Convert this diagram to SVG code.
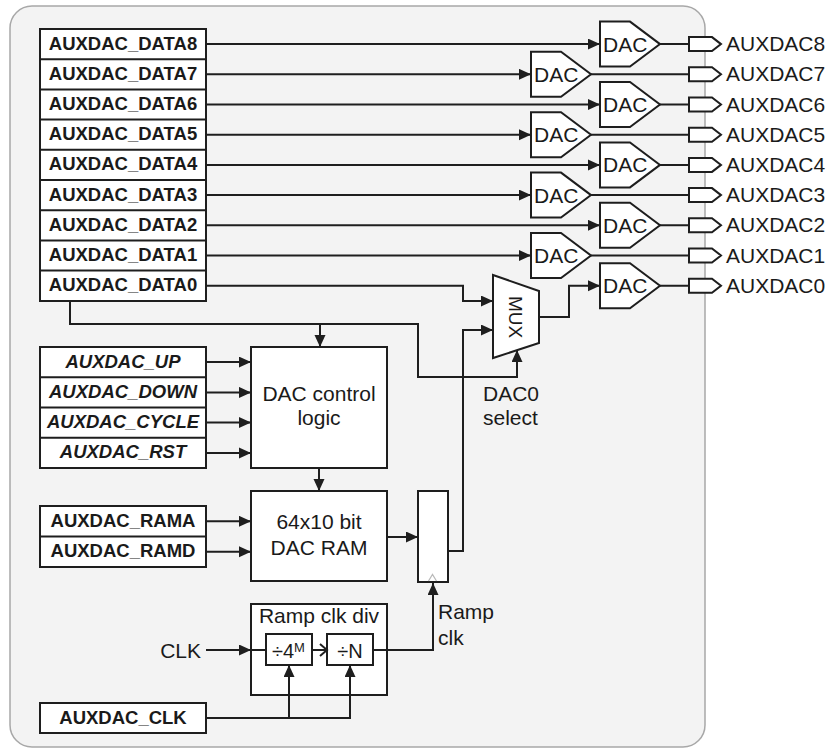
<svg xmlns="http://www.w3.org/2000/svg" width="830" height="753" viewBox="0 0 830 753">
<defs>
<style>
.ln{fill:none;stroke:#1e1e1e;stroke-width:2}
.bx{fill:#fff;stroke:#1e1e1e;stroke-width:2}
.rl{font-family:"Liberation Sans",Arial,sans-serif;font-weight:bold;font-size:18.5px;fill:#1a1a1a;text-anchor:middle}
.ri{font-family:"Liberation Sans",Arial,sans-serif;font-weight:bold;font-style:italic;font-size:18.5px;fill:#1a1a1a;text-anchor:middle}
.t{font-family:"Liberation Sans",Arial,sans-serif;font-size:21px;fill:#1a1a1a}
.m{text-anchor:middle}
</style>
<marker id="ah" markerUnits="userSpaceOnUse" markerWidth="13" markerHeight="12" refX="12" refY="5.5" orient="auto">
<path d="M0,0 L12,5.5 L0,11 z" fill="#1e1e1e"/>
</marker>
<polygon id="dac" points="0,-22.5 30,-22.5 60,0 30,22.5 0,22.5" class="bx"/>
<polygon id="port" points="0,-7 23,-7 32,0 23,7 0,7" class="bx"/>
</defs>
<rect x="10" y="6" width="695" height="741" rx="22" fill="#f3f3f3" stroke="#a8a8a8" stroke-width="1.5"/>

<g id="reg_data">
<rect class="bx" x="40" y="29" width="166" height="272"/>
<path class="ln" d="M40,59.2H206 M40,89.4H206 M40,119.6H206 M40,149.8H206 M40,180H206 M40,210.2H206 M40,240.4H206 M40,270.6H206"/>
<text class="rl" x="123" y="49.6">AUXDAC_DATA8</text>
<text class="rl" x="123" y="79.8">AUXDAC_DATA7</text>
<text class="rl" x="123" y="110">AUXDAC_DATA6</text>
<text class="rl" x="123" y="140.2">AUXDAC_DATA5</text>
<text class="rl" x="123" y="170.4">AUXDAC_DATA4</text>
<text class="rl" x="123" y="200.6">AUXDAC_DATA3</text>
<text class="rl" x="123" y="230.8">AUXDAC_DATA2</text>
<text class="rl" x="123" y="261">AUXDAC_DATA1</text>
<text class="rl" x="123" y="291.2">AUXDAC_DATA0</text>
</g>

<g id="dacs">
<g id="dac8" transform="translate(600,44.1)"><use href="#dac"/><text class="t" x="3" y="7.5">DAC</text></g>
<g id="dac7" transform="translate(531,74.3)"><use href="#dac"/><text class="t" x="3" y="7.5">DAC</text></g>
<g id="dac6" transform="translate(600,104.5)"><use href="#dac"/><text class="t" x="3" y="7.5">DAC</text></g>
<g id="dac5" transform="translate(531,134.7)"><use href="#dac"/><text class="t" x="3" y="7.5">DAC</text></g>
<g id="dac4" transform="translate(600,164.9)"><use href="#dac"/><text class="t" x="3" y="7.5">DAC</text></g>
<g id="dac3" transform="translate(531,195.1)"><use href="#dac"/><text class="t" x="3" y="7.5">DAC</text></g>
<g id="dac2" transform="translate(600,225.3)"><use href="#dac"/><text class="t" x="3" y="7.5">DAC</text></g>
<g id="dac1" transform="translate(531,255.5)"><use href="#dac"/><text class="t" x="3" y="7.5">DAC</text></g>
<g id="dac0" transform="translate(600,285.7)"><use href="#dac"/><text class="t" x="3" y="7.5">DAC</text></g>
</g>

<g id="ports">
<g transform="translate(689,44.1)"><use href="#port"/><text class="t" x="37" y="7">AUXDAC8</text></g>
<g transform="translate(689,74.3)"><use href="#port"/><text class="t" x="37" y="7">AUXDAC7</text></g>
<g transform="translate(689,104.5)"><use href="#port"/><text class="t" x="37" y="7">AUXDAC6</text></g>
<g transform="translate(689,134.7)"><use href="#port"/><text class="t" x="37" y="7">AUXDAC5</text></g>
<g transform="translate(689,164.9)"><use href="#port"/><text class="t" x="37" y="7">AUXDAC4</text></g>
<g transform="translate(689,195.1)"><use href="#port"/><text class="t" x="37" y="7">AUXDAC3</text></g>
<g transform="translate(689,225.3)"><use href="#port"/><text class="t" x="37" y="7">AUXDAC2</text></g>
<g transform="translate(689,255.5)"><use href="#port"/><text class="t" x="37" y="7">AUXDAC1</text></g>
<g transform="translate(689,285.7)"><use href="#port"/><text class="t" x="37" y="7">AUXDAC0</text></g>
</g>

<g id="mux">
<polygon class="bx" points="493,275 539,291 539,343 493,358"/>
<text class="t m" transform="translate(516,317) rotate(90)" x="0" y="7" style="font-size:19px">MUX</text>
</g>
<g id="dac0_select_label">
<text class="t" x="483" y="401">DAC0</text>
<text class="t" x="483" y="425">select</text>
</g>

<g id="reg_ctrl">
<rect class="bx" x="40" y="347" width="166" height="121"/>
<path class="ln" d="M40,377.25H206 M40,407.5H206 M40,437.75H206"/>
<text class="ri" x="123" y="367.6">AUXDAC_UP</text>
<text class="ri" x="123" y="397.9">AUXDAC_DOWN</text>
<text class="ri" x="123" y="428.1">AUXDAC_CYCLE</text>
<text class="ri" x="123" y="458.4">AUXDAC_RST</text>
</g>

<g id="dac_control_logic">
<rect class="bx" x="251" y="347" width="136" height="121"/>
<text class="t m" x="319" y="401">DAC control</text>
<text class="t m" x="319" y="425">logic</text>
</g>

<g id="reg_ram">
<rect class="bx" x="40" y="506" width="166" height="61"/>
<path class="ln" d="M40,536.5H206"/>
<text class="rl" x="123" y="526.8">AUXDAC_RAMA</text>
<text class="rl" x="123" y="557.3">AUXDAC_RAMD</text>
</g>

<g id="dac_ram">
<rect class="bx" x="251" y="491" width="136" height="90"/>
<text class="t m" x="319" y="529">64x10 bit</text>
<text class="t m" x="319" y="555">DAC RAM</text>
</g>

<g id="shift_reg">
<rect class="bx" x="418" y="491" width="30" height="91"/>
<path d="M428.5,581 L432.5,574.5 L436.5,581" fill="none" stroke="#b8b8b8" stroke-width="1.2"/>
</g>
<g id="ramp_clk_label">
<text class="t" x="438" y="619">Ramp</text>
<text class="t" x="438" y="645">clk</text>
</g>

<g id="ramp_clk_div">
<rect class="bx" x="251" y="604" width="136" height="91"/>
<text class="t m" x="319" y="623">Ramp clk div</text>
</g>
<g id="div4m">
<rect class="bx" x="266" y="634" width="46" height="31"/>
<text class="t" x="272" y="658" style="font-size:20px">÷4<tspan dy="-6" style="font-size:13px">M</tspan></text>
</g>
<g id="divn">
<rect class="bx" x="327" y="634" width="46" height="31"/>
<text class="t m" x="350" y="658" style="font-size:20px">÷N</text>
</g>

<g id="clk_label">
<text class="t" x="201" y="658" style="text-anchor:end">CLK</text>
</g>

<g id="reg_clk">
<rect class="bx" x="40" y="703" width="166" height="30"/>
<text class="rl" x="123" y="724">AUXDAC_CLK</text>
</g>

<g id="connectors">
<path class="ln" d="M206,44.1H600" marker-end="url(#ah)"/>
<path class="ln" d="M206,74.3H531" marker-end="url(#ah)"/>
<path class="ln" d="M206,104.5H600" marker-end="url(#ah)"/>
<path class="ln" d="M206,134.7H531" marker-end="url(#ah)"/>
<path class="ln" d="M206,164.9H600" marker-end="url(#ah)"/>
<path class="ln" d="M206,195.1H531" marker-end="url(#ah)"/>
<path class="ln" d="M206,225.3H600" marker-end="url(#ah)"/>
<path class="ln" d="M206,255.5H531" marker-end="url(#ah)"/>
<path class="ln" d="M660,44.1H689 M591,74.3H689 M660,104.5H689 M591,134.7H689 M660,164.9H689 M591,195.1H689 M660,225.3H689 M591,255.5H689 M660,285.7H689"/>
<path class="ln" d="M206,285.7H463V301H493" marker-end="url(#ah)"/>
<path class="ln" d="M448,551H463V330H493" marker-end="url(#ah)"/>
<path class="ln" d="M539,317H569V285.7H600" marker-end="url(#ah)"/>
<path class="ln" d="M70,302V324H418V377H517V350" marker-end="url(#ah)"/>
<path class="ln" d="M320,324V347" marker-end="url(#ah)"/>
<path class="ln" d="M206,362.1H251" marker-end="url(#ah)"/>
<path class="ln" d="M206,392.4H251" marker-end="url(#ah)"/>
<path class="ln" d="M206,422.6H251" marker-end="url(#ah)"/>
<path class="ln" d="M206,452.9H251" marker-end="url(#ah)"/>
<path class="ln" d="M319,468V491" marker-end="url(#ah)"/>
<path class="ln" d="M206,521.3H251" marker-end="url(#ah)"/>
<path class="ln" d="M206,551.8H251" marker-end="url(#ah)"/>
<path class="ln" d="M387,537H418" marker-end="url(#ah)"/>
<path class="ln" d="M206,650H251" marker-end="url(#ah)"/>
<path class="ln" d="M251,650H266"/>
<path class="ln" d="M312,650H327 M320,644L327,650L320,656"/>
<path class="ln" d="M373,650H433V583" marker-end="url(#ah)"/>
<path class="ln" d="M206,718H350V665" marker-end="url(#ah)"/>
<path class="ln" d="M289,718V665" marker-end="url(#ah)"/>
</g>
</svg>
